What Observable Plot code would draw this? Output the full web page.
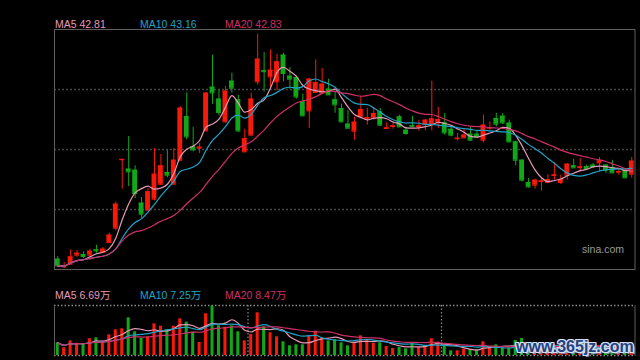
<!DOCTYPE html>
<html><head><meta charset="utf-8">
<script src="https://cdn.jsdelivr.net/npm/d3@7"></script>
<script src="https://cdn.jsdelivr.net/npm/@observablehq/plot@0.6"></script>
<style>
html,body{margin:0;padding:0;background:#000;}
#wrap{position:relative;width:640px;height:360px;overflow:hidden;background:#000;font-family:"Liberation Sans",Arial,"Noto Sans CJK SC",sans-serif;}
#wrap svg{position:absolute;left:0;}
.lbl{position:absolute;font-size:10.5px;line-height:1;white-space:nowrap;}
#sina{position:absolute;left:582px;top:244px;font-size:10.5px;line-height:1;color:#9a9a9a;}
#wm{position:absolute;left:516px;top:338.5px;font-size:16px;line-height:1;font-weight:bold;color:#23417c;white-space:nowrap;
 text-shadow:1px 0 0 #d6e0f2,-1px 0 0 #d6e0f2,0 1px 0 #d6e0f2,0 -1px 0 #d6e0f2,1px 1px 0 #d6e0f2,-1px -1px 0 #d6e0f2,1px -1px 0 #d6e0f2,-1px 1px 0 #d6e0f2,2px 2px 1px #8fa3c4;}
</style></head><body><div id="wrap"></div>
<script>
// ---- data ----
const opens  = [29.10,27.93,28.32,29.72,29.82,29.72,30.54,30.13,31.68,33.90,44.52,43.05,42.89,37.78,36.69,38.40,40.72,42.53,40.72,44.44,51.21,46.50,46.30,48.98,55.76,53.90,50.38,56.69,53.79,45.73,48.32,56.58,58.31,57.35,56.58,60.72,57.46,57.26,53.48,52.08,54.93,54.83,55.45,53.79,52.45,50.02,48.94,51.18,50.87,50.95,51.93,49.35,49.66,51.15,49.09,49.79,49.66,49.97,50.13,50.22,50.22,49.24,47.77,47.90,48.47,48.47,47.54,49.40,50.90,51.26,50.18,47.28,44.44,40.98,40.57,41.14,40.98,42.07,40.98,42.12,43.56,43.31,43.46,43.67,44.02,43.67,43.25,42.58,42.89,42.27];
const highs  = [29.51,28.58,30.54,30.44,30.23,30.65,31.27,30.91,33.13,37.98,44.60,48.11,43.56,38.66,40.05,46.25,45.32,45.94,46.25,52.76,54.87,49.51,47.03,54.93,60.72,55.34,55.86,57.93,54.52,49.24,54.83,63.97,61.13,61.54,60.87,61.03,58.81,57.51,54.67,57.10,59.99,58.65,57.00,55.03,53.12,52.19,51.11,54.36,52.50,52.61,52.45,50.22,50.38,51.42,49.51,51.26,50.64,50.75,56.69,52.61,51.68,49.51,48.58,49.20,49.51,48.98,51.42,50.38,51.68,51.68,50.64,47.39,44.50,41.60,41.50,41.70,42.22,44.08,42.12,43.93,44.60,44.70,43.67,43.93,44.86,43.77,44.44,43.05,43.15,44.86];
const lows   = [27.96,27.65,28.25,29.36,29.20,28.89,30.03,30.03,31.58,33.48,39.95,40.36,38.50,35.45,36.58,38.13,40.57,41.70,40.64,44.33,47.59,45.73,45.48,48.83,53.12,51.31,50.18,54.83,48.73,45.63,48.21,56.07,55.03,55.60,55.18,56.58,55.45,53.90,51.21,49.35,54.83,54.67,54.52,51.73,50.28,49.32,47.54,51.15,49.87,50.64,49.71,49.24,49.24,49.51,48.32,49.56,48.94,48.98,48.98,49.35,48.32,48.05,47.43,47.80,47.43,47.85,47.12,49.09,49.60,49.97,47.23,43.56,41.08,40.15,39.95,39.64,40.95,41.34,40.67,41.34,43.25,42.63,43.05,43.15,42.63,42.38,42.47,42.12,41.70,41.70];
const closes = [28.06,28.01,29.45,30.03,29.51,30.33,30.38,30.65,32.82,37.62,44.56,42.63,39.28,36.07,39.53,42.27,43.56,42.12,44.44,52.50,48.05,46.04,46.46,54.83,54.87,51.83,55.14,55.60,48.98,47.80,53.90,60.10,58.16,58.39,59.68,57.88,57.00,54.25,51.31,57.00,56.48,56.22,54.56,53.01,50.38,49.40,50.33,52.30,51.03,51.68,49.87,49.45,49.76,49.60,48.58,49.63,49.76,50.64,50.84,50.75,48.67,48.32,47.85,48.32,47.54,48.05,49.87,49.51,50.02,50.22,47.28,44.44,41.34,40.30,41.34,41.23,41.45,42.16,41.45,43.82,43.25,43.40,43.15,43.46,44.33,42.89,42.47,42.69,41.70,44.29];
// volume, 万
const volumes = [12.7,7.7,14.7,12.3,11.3,16.7,17.7,14,20.7,25.7,26.7,37.7,23.7,17,18.7,31.7,29.3,26,29.3,36.7,33.3,23.3,13,41.7,49.3,29.7,28.3,29.7,23.7,14.7,21,42.7,28.7,22.7,18.7,13.7,9.7,10.7,10.7,19.7,24.3,17.3,14.7,15.7,12.7,9.7,13,19.7,15.3,12,12.7,9,7,8,6.7,13,8,9.7,16.7,13.3,9,4.7,4.7,6.3,6,5.7,13.7,7.7,10.7,7.7,7.7,15,17,10,9,8,7,9,6,8.2,8,9,6,6,10,7,7,5,6,8.5];
const monthStarts = [30, 60];
const maPeriods = [5, 10, 20];
const priceMaLabels = ["MA5 42.81", "MA10 43.16", "MA20 42.83"];
const volMaLabels = ["MA5 6.69万", "MA10 7.25万", "MA20 8.47万"];
const priceDomain = [27.5, 64.7];
const volumeMax = 50;
const watermark = "www.365jz.com";
const brand = "sina.com";

// ---- styles ----
const RED = "#f8190b", GREEN = "#10a818";
const maColors = ["#e69ab7", "#1fa3c6", "#cf2f69"];
const labelLefts = [55, 140, 225];

const data = opens.map((o, i) => ({i, open: o, high: highs[i], low: lows[i], close: closes[i], volume: volumes[i], up: closes[i] >= o}));
const candleColor = d => d.up ? RED : GREEN;
const xScale = () => ({type: "band", domain: data.map(d => d.i), paddingInner: 0.25, paddingOuter: 0.125, round: false, axis: null});
const gridLevels = d3.range(1, 4).map(k => priceDomain[0] + k * (priceDomain[1] - priceDomain[0]) / 4);

const main = Plot.plot({
  width: 640, height: 275, marginTop: 29, marginBottom: 6, marginLeft: 54, marginRight: 5.5,
  style: {background: "transparent", overflow: "visible"},
  x: xScale(),
  y: {domain: priceDomain, axis: null},
  color: {type: "identity"},
  marks: [
    Plot.ruleY(gridLevels, {stroke: "#464646", strokeWidth: 1.6, strokeDasharray: "2,2"}),
    Plot.ruleX(data, {x: "i", y1: "low", y2: "high", stroke: candleColor, strokeWidth: 1}),
    Plot.barY(data, {x: "i", y1: "open", y2: "close", fill: candleColor}),
    Plot.tickY(data, {x: "i", y: "close", stroke: candleColor}),
    Plot.tickY(data, {x: "i", y: "open", stroke: candleColor}),
    ...maPeriods.map((k, j) => Plot.lineY(data, Plot.windowY({k, anchor: "end"}, {x: "i", y: "close", stroke: maColors[j], strokeWidth: 1.2, curve: "monotone-x"}))),
    Plot.frame({stroke: "#5e5e5e"})
  ]
});
main.style.top = "0px";

const vol = Plot.plot({
  width: 640, height: 62, marginTop: 7, marginBottom: 5, marginLeft: 54, marginRight: 5.5,
  style: {background: "transparent", overflow: "visible"},
  x: xScale(),
  y: {domain: [0, volumeMax], axis: null},
  color: {type: "identity"},
  marks: [
    Plot.frame({stroke: "#5e5e5e"}),
    Plot.ruleY([0, volumeMax], {stroke: "#000", strokeWidth: 2}),
    Plot.ruleY([0, volumeMax], {stroke: "#8a8a8a", strokeWidth: 1.3, strokeDasharray: "1.5,2"}),
    Plot.ruleX(monthStarts, {dx: -3.22, stroke: "#8a8a8a", strokeWidth: 1.2, strokeDasharray: "1.5,2"}),
    Plot.barY(data, {x: "i", y: "volume", fill: candleColor, insetLeft: 0.9, insetRight: 0.9}),
    ...maPeriods.map((k, j) => Plot.lineY(data, Plot.windowY({k, anchor: "end"}, {x: "i", y: "volume", stroke: maColors[j], strokeWidth: 1.2, curve: "monotone-x"})))
  ]
});
vol.style.top = "298px";

const wrap = document.getElementById("wrap");
wrap.append(main, vol);
function addLabels(texts, top) {
  texts.forEach((t, j) => {
    const s = document.createElement("div");
    s.className = "lbl"; s.textContent = t;
    s.style.left = labelLefts[j] + "px"; s.style.top = top + "px"; s.style.color = maColors[j];
    wrap.append(s);
  });
}
addLabels(priceMaLabels, 19.1);
addLabels(volMaLabels, 290);
const sina = document.createElement("div"); sina.id = "sina"; sina.textContent = brand; wrap.append(sina);
const wm = document.createElement("div"); wm.id = "wm"; wm.textContent = watermark; wrap.append(wm);
</script></body></html>
